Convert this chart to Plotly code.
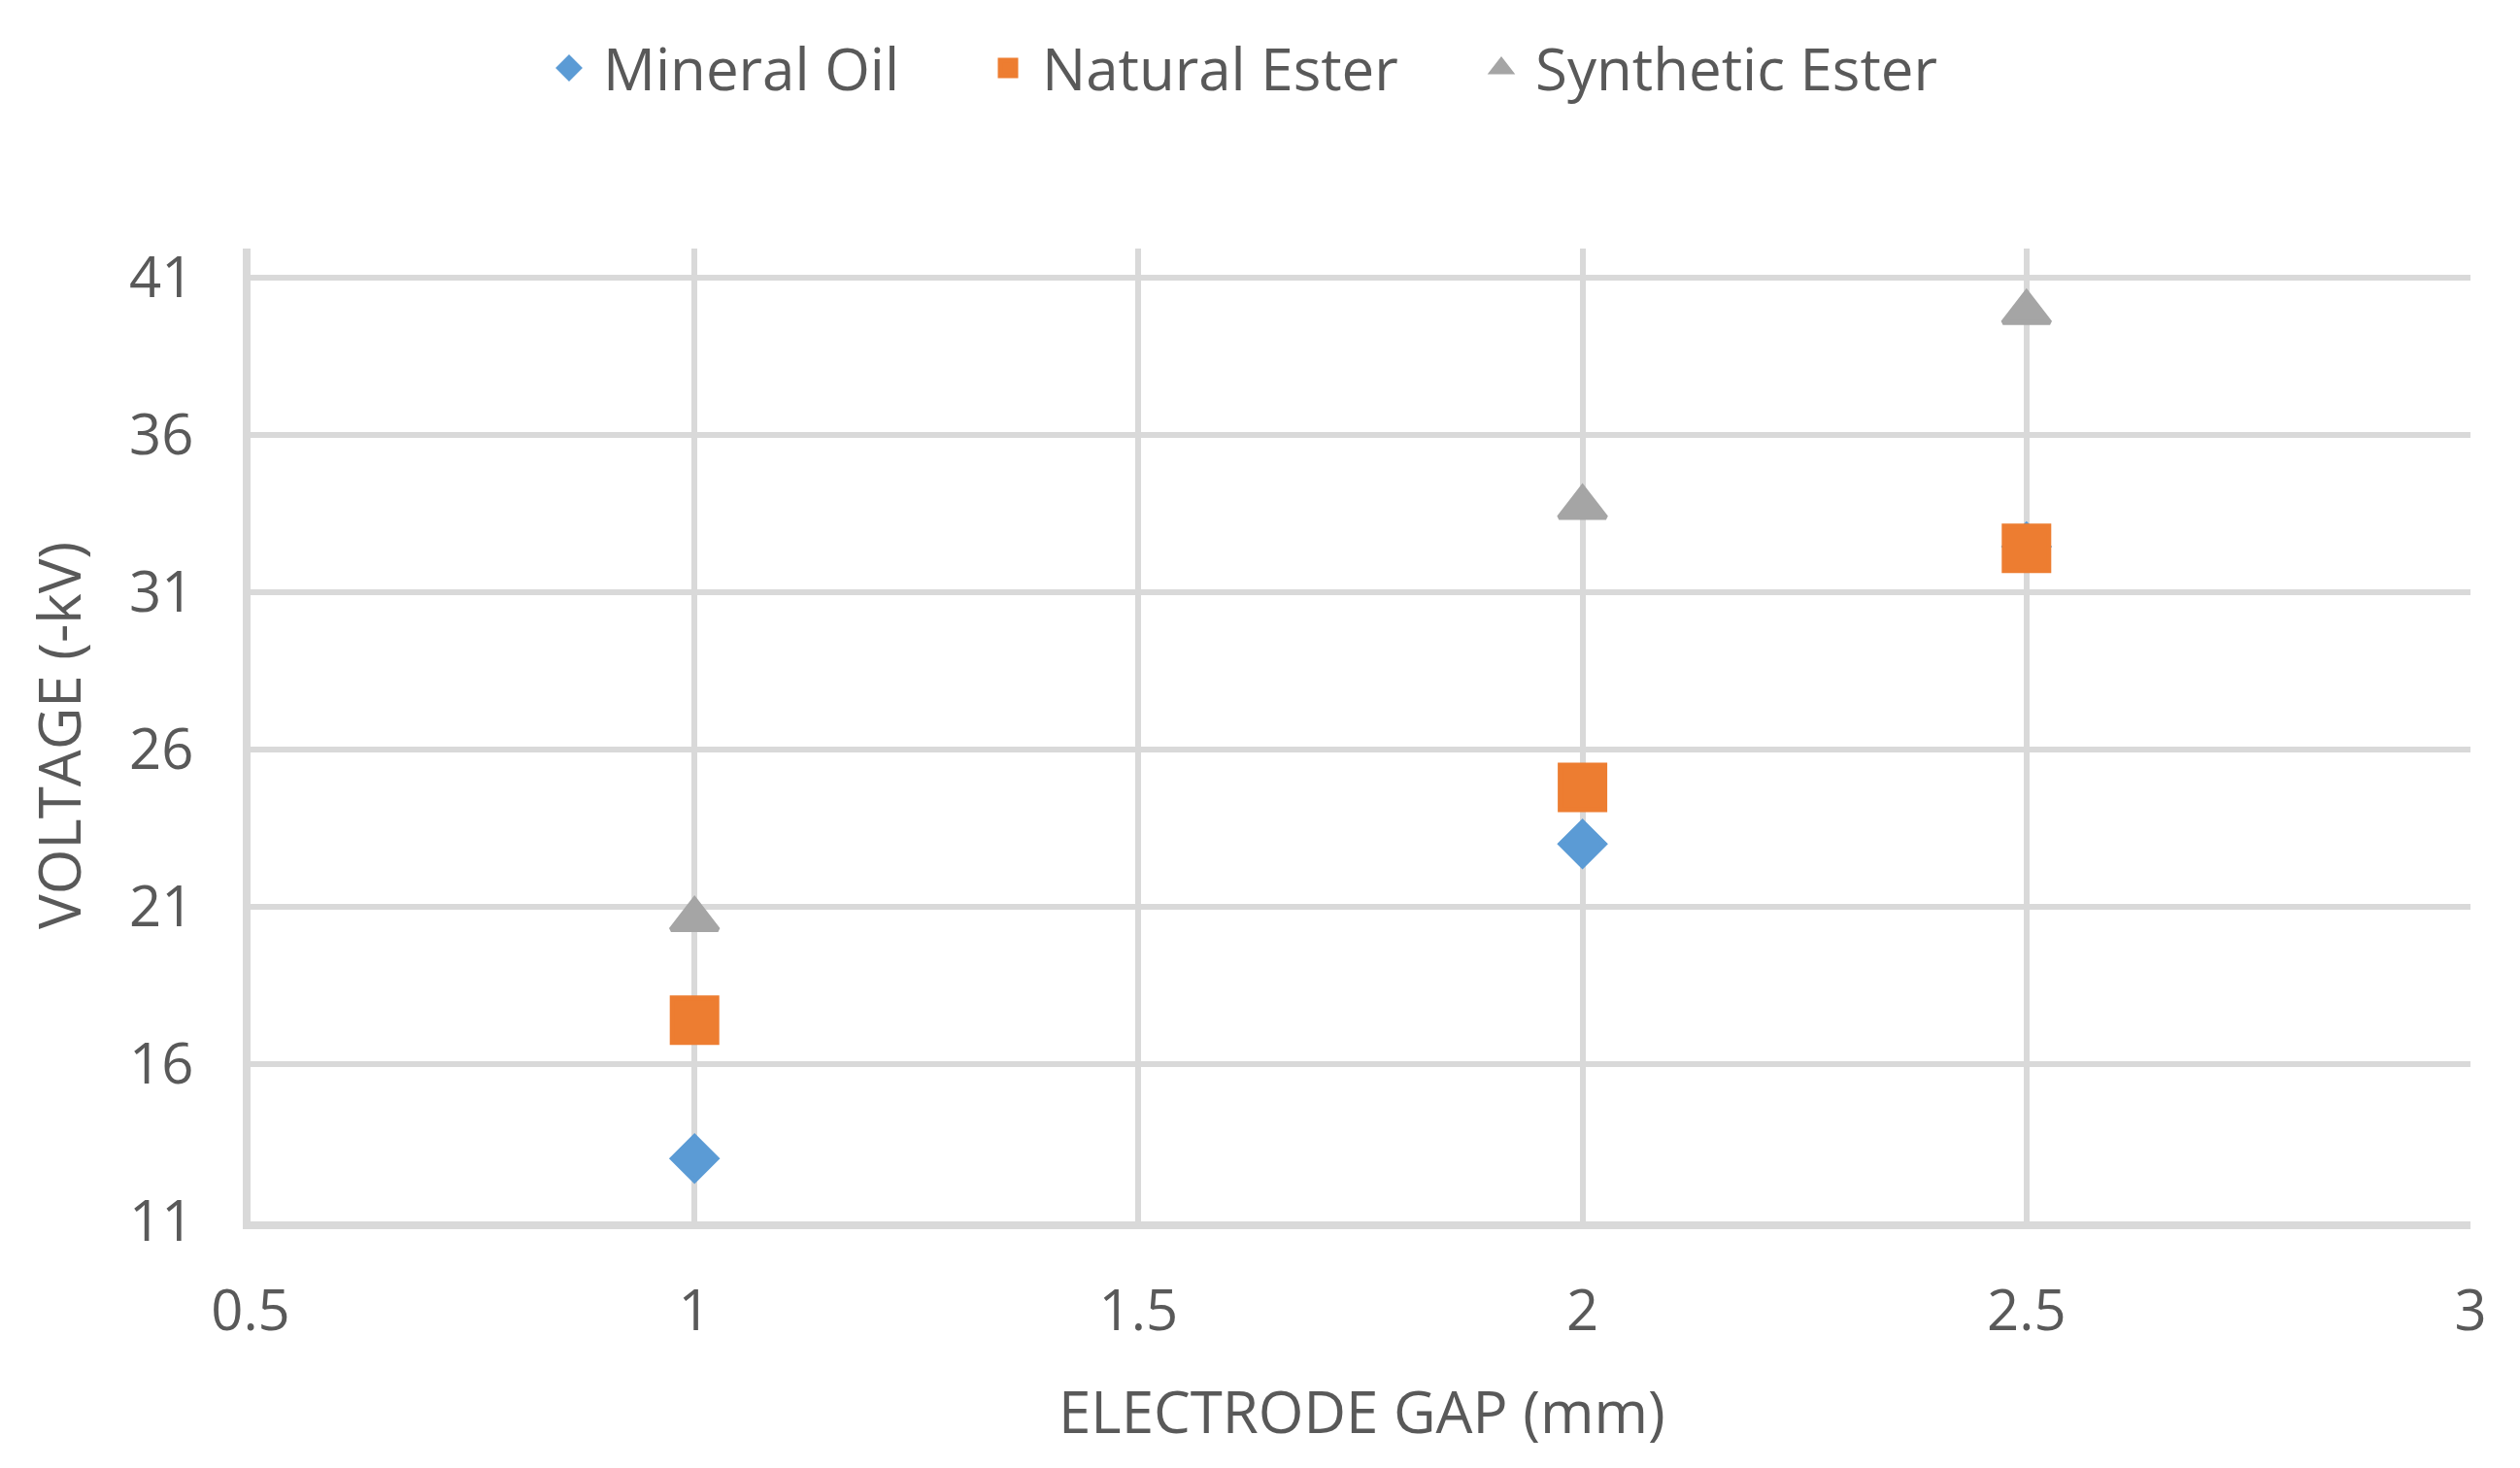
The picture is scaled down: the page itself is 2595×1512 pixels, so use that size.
import plotly.graph_objects as go

gap_mm = [1, 2, 2.5]
mineral_oil = [13.0, 23.0, 32.45]
natural_ester = [17.4, 24.8, 32.4]
synthetic_ester = [20.6, 33.7, 39.9]
y_ticks = [11, 16, 21, 26, 31, 36, 41]
x_ticks = [0.5, 1, 1.5, 2, 2.5, 3]

FONT = "Open Sans"
TXT = "#595959"
GRID = "#D9D9D9"

W, H = 2595, 1512
L, R, T, B = 258, 51, 256, 254
pw = W - L - R
ph = H - T - B

def px_x(p):
    return (p - L) / pw

def px_y(p):
    return (H - B - p) / ph

fig = go.Figure()
series = [
    ("Mineral Oil", mineral_oil, "#5B9BD5", "diamond", 35, "legend"),
    ("Natural Ester", natural_ester, "#ED7D31", "square", 46, "legend2"),
    ("Synthetic Ester", synthetic_ester, "#A5A5A5", "triangle-up", 42, "legend3"),
]
for name, ys, col, sym, sz, lg in series:
    fig.add_trace(go.Scatter(
        x=gap_mm, y=ys, mode="markers", name=name, legend=lg, showlegend=True,
        marker=dict(color=col, symbol=sym, size=sz, line=dict(color=col, width=5)),
    ))

leg_common = dict(orientation="h", yanchor="middle", y=px_y(70), xanchor="left",
                  font=dict(family=FONT, size=60, color=TXT), bgcolor="rgba(0,0,0,0)",
                  itemwidth=60, visible=True)
fig.update_layout(
    width=W, height=H,
    margin=dict(l=L, r=R, t=T, b=B, autoexpand=False),
    paper_bgcolor="white", plot_bgcolor="white",
    showlegend=True,
    font=dict(family=FONT, size=58, color=TXT),
    legend=dict(x=px_x(551), **leg_common),
    legend2=dict(x=px_x(1003), **leg_common),
    legend3=dict(x=px_x(1511), **leg_common),
    xaxis=dict(range=[0.5, 3], tickvals=x_ticks, ticktext=[str(v) for v in x_ticks],
               showgrid=True, gridcolor=GRID, gridwidth=6,
               showline=True, linecolor=GRID, linewidth=8,
               zeroline=False, ticks="", ticklabelstandoff=34, automargin=False,
               tickfont=dict(family=FONT, size=58, color=TXT)),
    yaxis=dict(range=[11, 41.93], tickvals=y_ticks, ticktext=[str(v) for v in y_ticks],
               showgrid=True, gridcolor=GRID, gridwidth=6,
               showline=True, linecolor=GRID, linewidth=8,
               zeroline=False, ticks="", ticklabelstandoff=39, automargin=False,
               tickfont=dict(family=FONT, size=58, color=TXT)),
    annotations=[
        dict(text="ELECTRODE GAP (mm)", xref="paper", yref="paper",
             x=px_x(1402), y=px_y(1453), xanchor="center", yanchor="middle",
             showarrow=False, font=dict(family=FONT, size=60, color=TXT)),
        dict(text="VOLTAGE (-kV)", xref="paper", yref="paper",
             x=px_x(60), y=px_y(758), xanchor="center", yanchor="middle",
             textangle=-90, showarrow=False, font=dict(family=FONT, size=60, color=TXT)),
    ],
)

fig.write_html("out.html", config={"displayModeBar": False},
               post_script="document.body.style.margin='0';document.body.style.padding='0';")
